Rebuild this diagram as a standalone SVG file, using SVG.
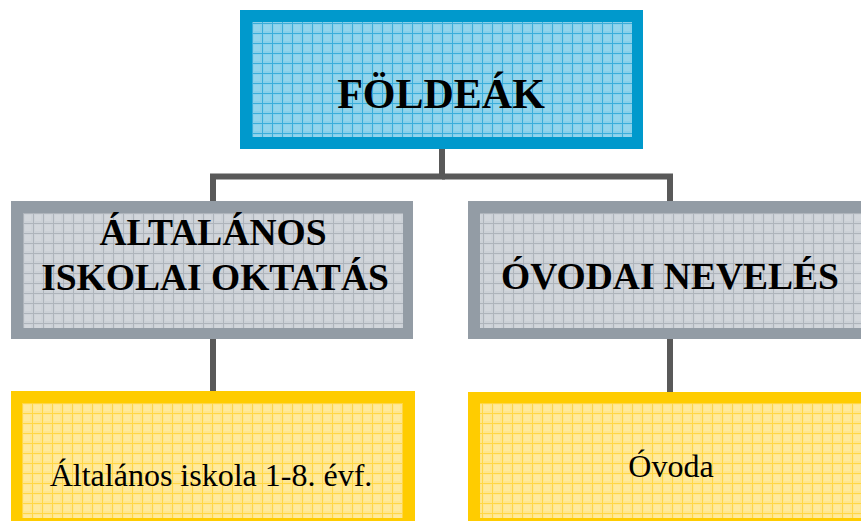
<svg xmlns="http://www.w3.org/2000/svg" width="861" height="521" viewBox="0 0 861 521">
<defs>
<pattern id="gBlue" patternUnits="userSpaceOnUse" x="2" y="3" width="10" height="10">
<rect width="10" height="10" fill="#88D0EA"/>
<rect x="2" y="2" width="6" height="6" fill="#93D5EC"/>
<path d="M0.5 0V10M0 0.5H10" stroke="#3AAEDA" stroke-width="1" fill="none"/>
</pattern>
<pattern id="gGray" patternUnits="userSpaceOnUse" x="3" y="3" width="10" height="10">
<rect width="10" height="10" fill="#CCD1D7"/>
<rect x="2" y="2" width="6" height="6" fill="#D2D6DB"/>
<path d="M0.5 0V10M0 0.5H10" stroke="#AEB4BB" stroke-width="1" fill="none"/>
</pattern>
<pattern id="gYellow" patternUnits="userSpaceOnUse" x="2" y="3" width="10" height="10">
<rect width="10" height="10" fill="#FFE68E"/>
<rect x="2" y="2" width="6" height="6" fill="#FFEA9C"/>
<path d="M0.5 0V10M0 0.5H10" stroke="#FFD745" stroke-width="1" fill="none"/>
</pattern>
</defs>
<style>
.blue{fill:#0099CC}
.gray{fill:#939CA5}
.yel{fill:#FFCC00}
.conn{stroke:#595959;stroke-width:6;fill:none}
.bold{font-family:"Liberation Serif","Times New Roman",serif;font-weight:bold;fill:#000;text-anchor:middle}
.reg{font-family:"Liberation Serif","Times New Roman",serif;fill:#000;text-anchor:middle;font-size:32px}
</style>
<g id="connectors">
<path class="conn" d="M442 149V176.5H213V201"/>
<path class="conn" d="M442 176.5H670V201"/>
<path class="conn" d="M213 339V391"/>
<path class="conn" d="M670 339V392"/>
</g>
<g id="node-foldeak">
<rect class="blue" x="240" y="10" width="403" height="139"/>
<rect x="252" y="22" width="380" height="115" fill="url(#gBlue)"/>
<text class="bold" x="441" y="108" font-size="42">FÖLDEÁK</text>
</g>
<g id="node-altalanos-oktatas">
<rect class="gray" x="11" y="201" width="402" height="138"/>
<rect x="23" y="213" width="380" height="115" fill="url(#gGray)"/>
<text class="bold" x="213" y="245" font-size="37.5">ÁLTALÁNOS</text>
<text class="bold" x="215" y="290" font-size="37.5">ISKOLAI OKTATÁS</text>
</g>
<g id="node-ovodai-neveles">
<rect class="gray" x="468" y="201" width="404" height="138"/>
<rect x="480" y="213" width="381" height="115" fill="url(#gGray)"/>
<text class="bold" x="670" y="289" font-size="37.5">ÓVODAI NEVELÉS</text>
</g>
<g id="node-altalanos-iskola">
<rect class="yel" x="11" y="391" width="404" height="140"/>
<rect x="22" y="403" width="381" height="115" fill="url(#gYellow)"/>
<text class="reg" x="211" y="486">Általános iskola 1-8. évf.</text>
</g>
<g id="node-ovoda">
<rect class="yel" x="468" y="392" width="404" height="140"/>
<rect x="480" y="403" width="381" height="115" fill="url(#gYellow)"/>
<text class="reg" x="671" y="477">Óvoda</text>
</g>
</svg>
